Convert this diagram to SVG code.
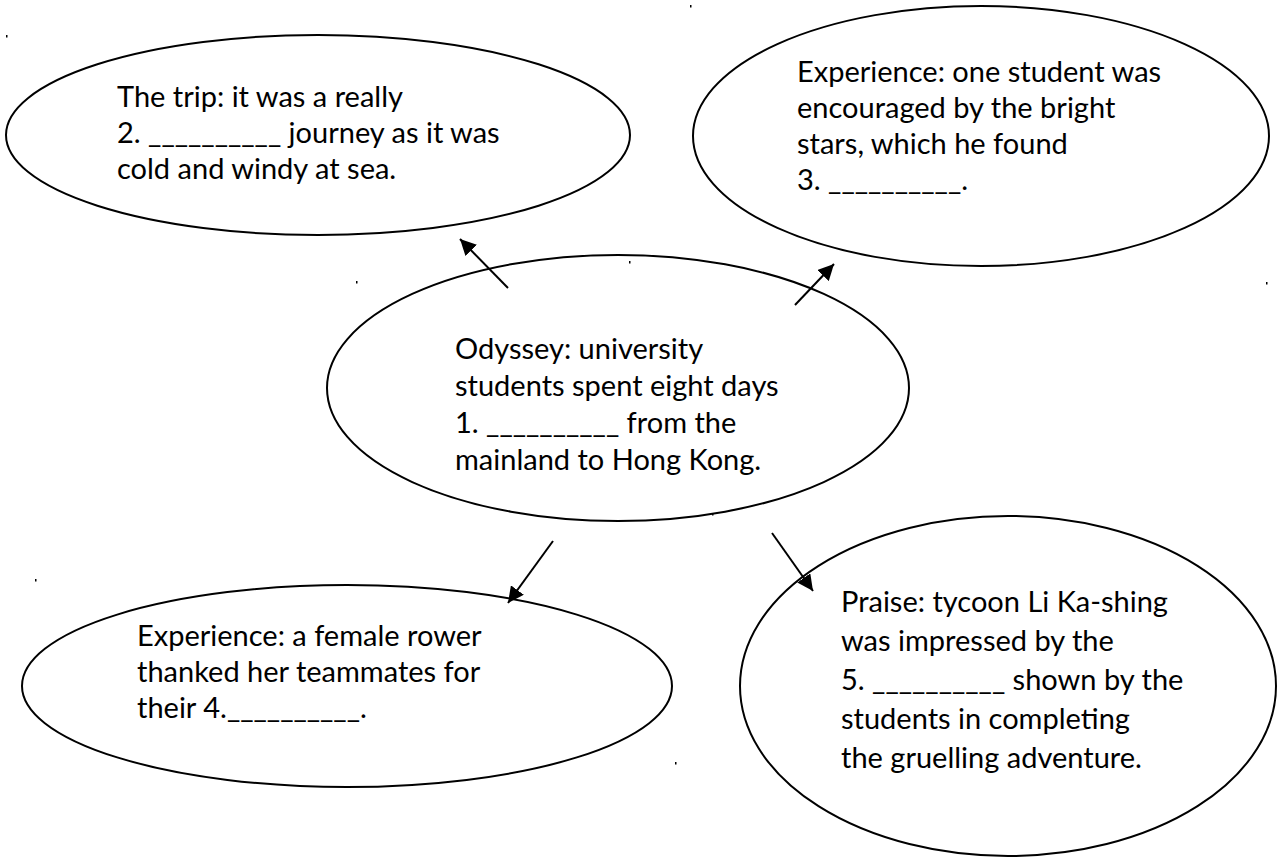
<svg xmlns="http://www.w3.org/2000/svg" width="1280" height="858" viewBox="0 0 1280 858">
  <defs>
    <marker id="ah" viewBox="0 0 10 10" refX="10" refY="5" markerWidth="8" markerHeight="8" markerUnits="strokeWidth" orient="auto">
      <path d="M0,0 L10,5 L0,10 z" fill="#000"/>
    </marker>
    <style>
      .bub { fill: #fff; stroke: #000; stroke-width: 2; }
      .txt { font-family: "Lato", "Open Sans", "Liberation Sans", sans-serif; font-size: 29px; fill: #000; }
      .con { stroke: #000; stroke-width: 2; fill: none; marker-end: url(#ah); }
      .speck { fill: #000; }
    </style>
  </defs>
  <rect width="1280" height="858" fill="#fff"/>

  <g id="node-trip">
    <ellipse class="bub" cx="318" cy="135" rx="312" ry="100"/>
    <text class="txt" x="117" y="107">The trip: it was a really</text>
    <text class="txt" x="117" y="143">2. __________ journey as it was</text>
    <text class="txt" x="117" y="179">cold and windy at sea.</text>
  </g>

  <g id="node-stars">
    <ellipse class="bub" cx="981" cy="136" rx="288" ry="130"/>
    <text class="txt" x="797" y="82">Experience: one student was</text>
    <text class="txt" x="797" y="118">encouraged by the bright</text>
    <text class="txt" x="797" y="154">stars, which he found</text>
    <text class="txt" x="797" y="190">3. __________.</text>
  </g>

  <g id="node-odyssey">
    <ellipse class="bub" cx="618" cy="388" rx="291" ry="133"/>
    <text class="txt" x="455" y="359">Odyssey: university</text>
    <text class="txt" x="455" y="396">students spent eight days</text>
    <text class="txt" x="455" y="433">1. __________ from the</text>
    <text class="txt" x="455" y="470">mainland to Hong Kong.</text>
  </g>

  <g id="node-rower">
    <ellipse class="bub" cx="347" cy="686" rx="325" ry="101"/>
    <text class="txt" x="137" y="646">Experience: a female rower</text>
    <text class="txt" x="137" y="682">thanked her teammates for</text>
    <text class="txt" x="137" y="718">their 4.__________.</text>
  </g>

  <g id="node-praise">
    <ellipse class="bub" cx="1008" cy="686" rx="268" ry="170"/>
    <text class="txt" x="841" y="612">Praise: tycoon Li Ka-shing</text>
    <text class="txt" x="841" y="651">was impressed by the</text>
    <text class="txt" x="841" y="690">5. __________ shown by the</text>
    <text class="txt" x="841" y="729">students in completing</text>
    <text class="txt" x="841" y="768">the gruelling adventure.</text>
  </g>

  <g id="connectors">
    <line class="con" x1="508" y1="288" x2="460" y2="239"/>
    <line class="con" x1="795" y1="305" x2="834" y2="264"/>
    <line class="con" x1="553" y1="541" x2="508" y2="603"/>
    <line class="con" x1="772" y1="533" x2="813" y2="591"/>
  </g>

  <g id="specks">
    <rect class="speck" x="6" y="35" width="1.5" height="2.5"/>
    <rect class="speck" x="690" y="5" width="1.5" height="2.5"/>
    <rect class="speck" x="356" y="281" width="1.5" height="2.5"/>
    <rect class="speck" x="629" y="261" width="1.5" height="2.5"/>
    <rect class="speck" x="1266" y="282" width="1.5" height="2.5"/>
    <rect class="speck" x="35" y="579" width="1.5" height="2.5"/>
    <rect class="speck" x="712" y="513" width="1.5" height="2.5"/>
    <rect class="speck" x="675" y="762" width="1.5" height="2.5"/>
  </g>
</svg>
